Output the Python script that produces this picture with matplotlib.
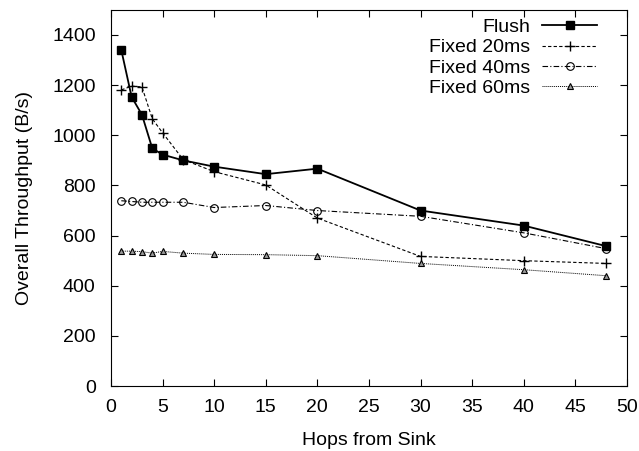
import matplotlib
matplotlib.use("Agg")
import matplotlib.pyplot as plt

plt.rcParams["font.family"] = ["Liberation Sans", "DejaVu Sans"]

# Data
hops = [1, 2, 3, 4, 5, 7, 10, 15, 20, 30, 40, 48]
flush = [1340, 1153, 1082, 948, 923, 900, 875, 845, 867, 700, 640, 558]
fixed_20 = [1181, 1196, 1193, 1066, 1010, 903, 855, 802, 670, 517, 500, 489]
fixed_40 = [739, 736, 733, 733, 733, 733, 712, 720, 700, 677, 611, 548]
fixed_60 = [538, 538, 536, 530, 537, 530, 525, 524, 520, 489, 464, 440]

x_ticks = list(range(0, 51, 5))
y_ticks = list(range(0, 1401, 200))

fig = plt.figure(figsize=(6.39, 4.51), dpi=100)
ax = fig.add_axes([0.1737, 0.144, 0.8073, 0.834])

ax.plot(hops, flush, color="black", linestyle="-", linewidth=1.3,
        marker="s", markersize=5.5, label="Flush")
ax.plot(hops, fixed_20, color="black", linestyle=(0, (3, 2)), linewidth=0.8,
        marker="+", markersize=7, markeredgewidth=1, label="Fixed 20ms")
ax.plot(hops, fixed_40, color="black", linestyle=(0, (5, 2, 1, 2)), linewidth=0.8,
        marker="o", markersize=5.5, markerfacecolor="none", markeredgewidth=0.8,
        label="Fixed 40ms")
ax.plot(hops, fixed_60, color="black", linestyle=(0, (1, 1)), linewidth=0.7,
        marker="^", markersize=5, markerfacecolor="0.6", markeredgewidth=0.8,
        label="Fixed 60ms")

ax.set_xlim(0, 50)
ax.set_ylim(0, 1500)
ax.set_xticks(x_ticks)
ax.set_yticks(y_ticks)
ax.tick_params(direction="in", top=True, right=True, labelsize=14, length=5)
ax.tick_params(axis="x", pad=9)
ax.tick_params(axis="y", pad=11)
ax.set_xlabel("Hops from Sink", fontsize=14, labelpad=12)
ax.set_ylabel("Overall Throughput (B/s)", fontsize=14, labelpad=14)

ax.legend(loc="upper right", frameon=False, markerfirst=False, fontsize=14,
          handlelength=2.8, labelspacing=0.14, borderaxespad=0.0,
          handletextpad=0.65, bbox_to_anchor=(0.957, 0.998))

fig.savefig("out.png", dpi=100)
